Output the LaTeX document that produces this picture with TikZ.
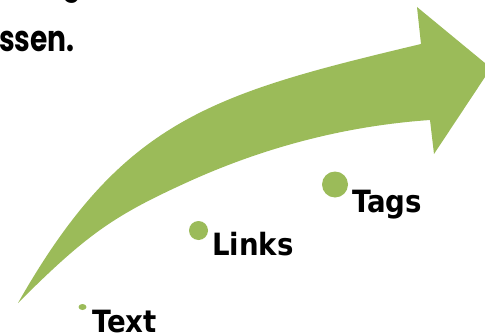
\documentclass[tikz,border=0pt]{standalone}
\usepackage{fontspec}
\newfontfamily\labelfont{DejaVu Sans Condensed}
\newfontfamily\titlefont{Poppins}
\definecolor{arrowgreen}{HTML}{9BBB59}
\begin{document}
\begin{tikzpicture}[x=0.75pt,y=-0.75pt,
  lbl/.style={font=\labelfont\bfseries\fontsize{23}{23}\selectfont, inner sep=0pt, anchor=base west, text=black},
  ttl/.style={font=\titlefont\bfseries\fontsize{27}{30}\selectfont, inner sep=0pt, text=black, xscale=0.78},
  bullet/.style={fill=arrowgreen}]
\useasboundingbox (0,0) rectangle (485,335);
\clip (0,0) rectangle (485,335);
% partial title text
\node[ttl, anchor=south] (gdesc) at (72,4) {g};
\node[ttl, anchor=base east] (title) at (75,51) {ssen.};
% big curved arrow
\fill[arrowgreen] (18,303) .. controls (122.4,119.4) and (211,94) .. (421,44)
  -- (417,7) -- (491,68) -- (434,154) -- (430,120)
  .. controls (340,126.3) and (260,149.5) .. (190,181)
  .. controls (115,215) and (88,233) .. (18,303)
  -- cycle;
% bullets and labels
\fill[bullet] (82.5,307) ellipse [x radius=4, y radius=3];
\node[lbl] (text) at (92,332) {Text};
\fill[bullet] (198.5,230.5) circle [radius=9.5];
\node[lbl] (links) at (212,255) {Links};
\fill[bullet] (335,184.5) circle [radius=13];
\node[lbl] (tags) at (352,212) {Tags};
\end{tikzpicture}
\end{document}
